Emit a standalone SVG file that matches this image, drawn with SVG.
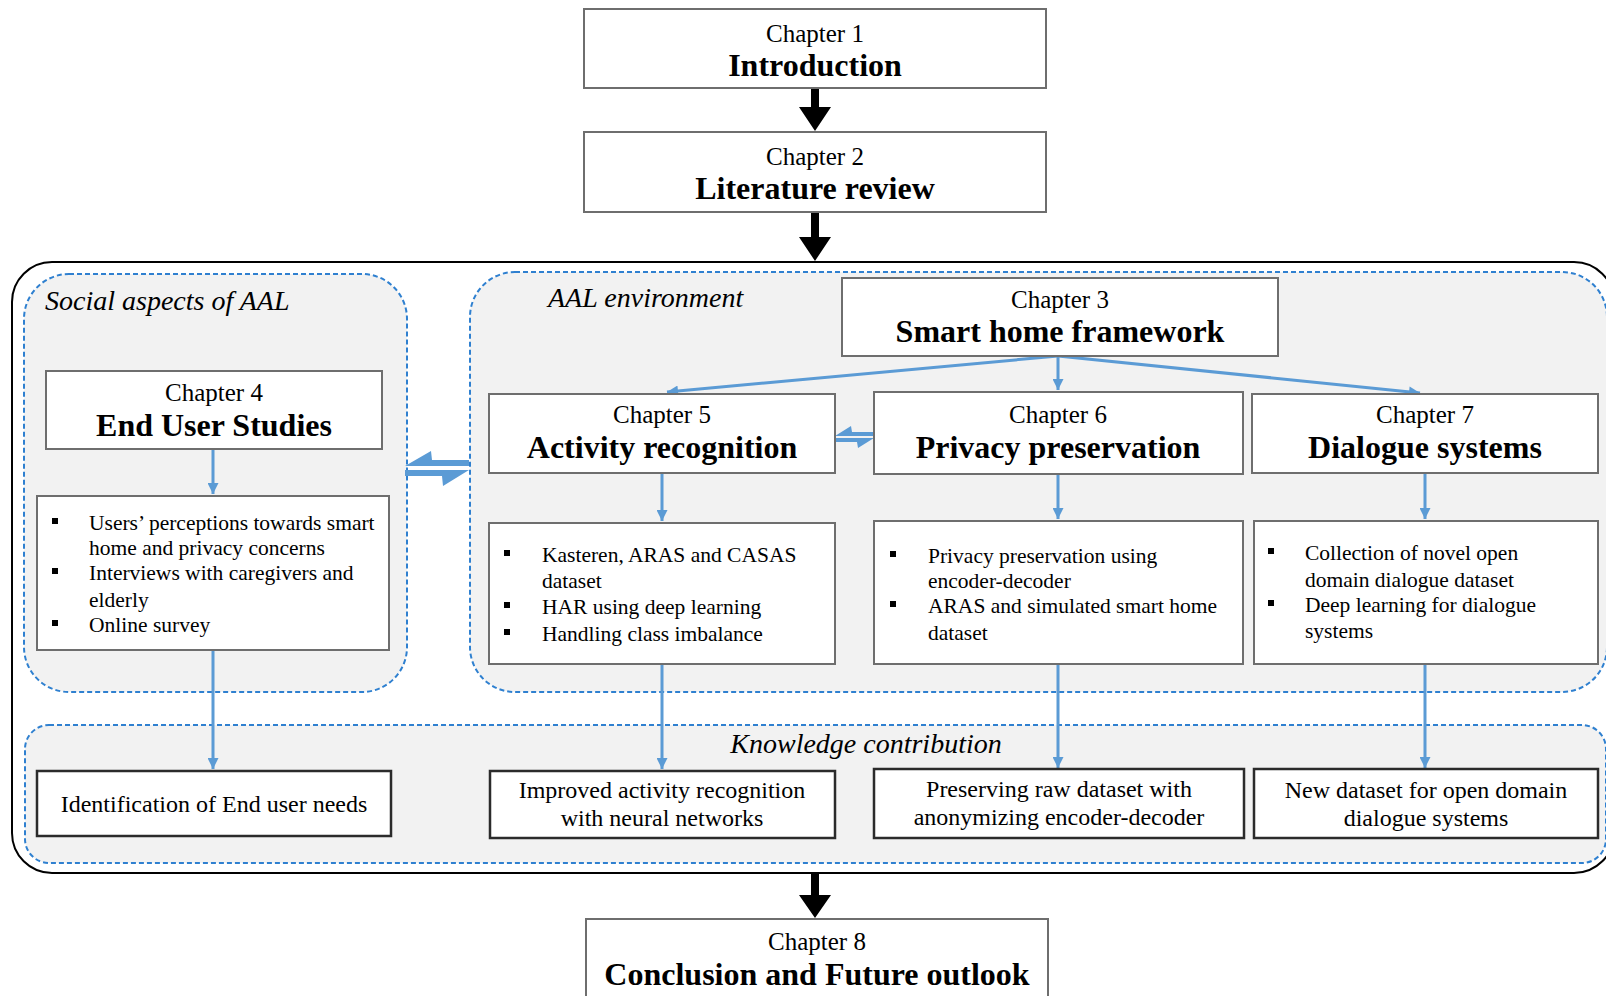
<svg xmlns="http://www.w3.org/2000/svg" width="1606" height="996" viewBox="0 0 1606 996">
  <style>
    text { font-family: "Liberation Serif", "Times New Roman", serif; fill: #000; }
    .ch { font-size: 25px; text-anchor: middle; }
    .title { font-size: 32px; font-weight: bold; text-anchor: middle; }
    .area { font-size: 28px; font-style: italic; }
    .body { font-size: 21.5px; }
    .out { font-size: 24px; text-anchor: middle; }
    .box { fill: #fff; stroke: #6e6e6e; stroke-width: 2; }
    .outbox { fill: #fff; stroke: #2b2b2b; stroke-width: 2.5; }
    .zone { fill: #f2f2f2; stroke: #2f80d0; stroke-width: 2; stroke-dasharray: 5 3; }
    .flow { stroke: #5b9bd5; stroke-width: 3; fill: none; marker-end: url(#blueHead); }
    .harpoon { fill: #5b9bd5; }
    .main { fill: #000; }
    .bullet { fill: #000; }
  </style>
  <defs>
    <marker id="blueHead" viewBox="0 0 10 10" refX="10" refY="5" markerWidth="12" markerHeight="11" markerUnits="userSpaceOnUse" orient="auto">
      <path d="M0,0 L10,5 L0,10 z" fill="#5b9bd5"/>
    </marker>
  </defs>

  <!-- outer frame around the research part -->
  <rect x="12" y="262" width="1602" height="611" rx="40" fill="#fff" stroke="#000" stroke-width="2"/>

  <!-- grouped zones -->
  <g id="zone-social">
    <rect class="zone" x="24" y="274" width="383" height="418" rx="45"/>
    <text class="area" x="45" y="310">Social aspects of AAL</text>
  </g>
  <g id="zone-aal">
    <rect class="zone" x="470" y="272" width="1137" height="420" rx="45"/>
    <text class="area" x="548" y="307">AAL environment</text>
  </g>
  <g id="zone-knowledge">
    <rect class="zone" x="25" y="725" width="1581" height="138" rx="24"/>
    <text class="area" x="866" y="753" text-anchor="middle">Knowledge contribution</text>
  </g>

  <!-- connectors -->
  <g id="connectors">
    <!-- main chapter flow -->
    <polygon class="main" points="811,88 819,88 819,107 831,107 815,131 799,107 811,107"/>
    <polygon class="main" points="811,212 819,212 819,237 831,237 815,261 799,237 811,237"/>
    <polygon class="main" points="811,873 819,873 819,895 831,895 815,918 799,895 811,895"/>

    <!-- chapter 3 fan-out -->
    <line class="flow" x1="1058" y1="356" x2="667" y2="392"/>
    <line class="flow" x1="1058" y1="356" x2="1058" y2="390"/>
    <line class="flow" x1="1058" y1="356" x2="1420" y2="393"/>

    <!-- chapter to detail boxes -->
    <line class="flow" x1="213" y1="449" x2="213" y2="494"/>
    <line class="flow" x1="662" y1="473" x2="662" y2="521"/>
    <line class="flow" x1="1058" y1="474" x2="1058" y2="519"/>
    <line class="flow" x1="1425" y1="473" x2="1425" y2="519"/>

    <!-- detail boxes to contributions -->
    <line class="flow" x1="213" y1="650" x2="213" y2="769"/>
    <line class="flow" x1="662" y1="664" x2="662" y2="769"/>
    <line class="flow" x1="1058" y1="664" x2="1058" y2="768"/>
    <line class="flow" x1="1425" y1="664" x2="1425" y2="768"/>

    <!-- two-way link between the social and AAL zones -->
    <polygon class="harpoon" points="469,460 432,460 431,451 405,466 469,466"/>
    <polygon class="harpoon" points="405,470 469,470 443,486 442,476 405,476"/>

    <!-- two-way link between chapter 5 and chapter 6 -->
    <polygon class="harpoon" points="874,432 852,432 851,426 835,436 874,436"/>
    <polygon class="harpoon" points="835,438 874,438 858,448 857,442 835,442"/>
  </g>

  <g id="ch1">
    <rect class="box" x="584" y="9" width="462" height="79"/>
    <text class="ch" x="815" y="42">Chapter 1</text>
    <text class="title" x="815" y="76">Introduction</text>
  </g>
  <g id="ch2">
    <rect class="box" x="584" y="132" width="462" height="80"/>
    <text class="ch" x="815" y="165">Chapter 2</text>
    <text class="title" x="815" y="199">Literature review</text>
  </g>
  <g id="ch3">
    <rect class="box" x="842" y="278" width="436" height="78"/>
    <text class="ch" x="1060" y="308">Chapter 3</text>
    <text class="title" x="1060" y="342">Smart home framework</text>
  </g>
  <g id="ch4">
    <rect class="box" x="46" y="371" width="336" height="78"/>
    <text class="ch" x="214" y="401">Chapter 4</text>
    <text class="title" x="214" y="436">End User Studies</text>
  </g>
  <g id="ch5">
    <rect class="box" x="489" y="394" width="346" height="79"/>
    <text class="ch" x="662" y="423">Chapter 5</text>
    <text class="title" x="662" y="458">Activity recognition</text>
  </g>
  <g id="ch6">
    <rect class="box" x="874" y="392" width="369" height="82"/>
    <text class="ch" x="1058" y="423">Chapter 6</text>
    <text class="title" x="1058" y="458">Privacy preservation</text>
  </g>
  <g id="ch7">
    <rect class="box" x="1252" y="394" width="346" height="79"/>
    <text class="ch" x="1425" y="423">Chapter 7</text>
    <text class="title" x="1425" y="458">Dialogue systems</text>
  </g>

  <g id="ch4-details">
    <rect class="box" x="37" y="496" width="352" height="154"/>
    <rect class="bullet" x="52" y="518" width="6" height="6"/>
    <rect class="bullet" x="52" y="568" width="6" height="6"/>
    <rect class="bullet" x="52" y="620" width="6" height="6"/>
    <text class="body" x="89" y="530">Users’ perceptions towards smart</text>
    <text class="body" x="89" y="555">home and privacy concerns</text>
    <text class="body" x="89" y="580">Interviews with caregivers and</text>
    <text class="body" x="89" y="607">elderly</text>
    <text class="body" x="89" y="632">Online survey</text>
  </g>
  <g id="ch5-details">
    <rect class="box" x="489" y="523" width="346" height="141"/>
    <rect class="bullet" x="504" y="550" width="6" height="6"/>
    <rect class="bullet" x="504" y="602" width="6" height="6"/>
    <rect class="bullet" x="504" y="629" width="6" height="6"/>
    <text class="body" x="542" y="562">Kasteren, ARAS and CASAS</text>
    <text class="body" x="542" y="588">dataset</text>
    <text class="body" x="542" y="614">HAR using deep learning</text>
    <text class="body" x="542" y="641">Handling class imbalance</text>
  </g>
  <g id="ch6-details">
    <rect class="box" x="874" y="521" width="369" height="143"/>
    <rect class="bullet" x="890" y="551" width="6" height="6"/>
    <rect class="bullet" x="890" y="601" width="6" height="6"/>
    <text class="body" x="928" y="563">Privacy preservation using</text>
    <text class="body" x="928" y="588">encoder-decoder</text>
    <text class="body" x="928" y="613">ARAS and simulated smart home</text>
    <text class="body" x="928" y="640">dataset</text>
  </g>
  <g id="ch7-details">
    <rect class="box" x="1254" y="521" width="344" height="143"/>
    <rect class="bullet" x="1268" y="548" width="6" height="6"/>
    <rect class="bullet" x="1268" y="600" width="6" height="6"/>
    <text class="body" x="1305" y="560">Collection of novel open</text>
    <text class="body" x="1305" y="587">domain dialogue dataset</text>
    <text class="body" x="1305" y="612">Deep learning for dialogue</text>
    <text class="body" x="1305" y="638">systems</text>
  </g>

  <g id="out-users">
    <rect class="outbox" x="37" y="771" width="354" height="65"/>
    <text class="out" x="214" y="812">Identification of End user needs</text>
  </g>
  <g id="out-activity">
    <rect class="outbox" x="490" y="771" width="345" height="67"/>
    <text class="out" x="662" y="798">Improved activity recognition</text>
    <text class="out" x="662" y="826">with neural networks</text>
  </g>
  <g id="out-privacy">
    <rect class="outbox" x="874" y="769" width="370" height="69"/>
    <text class="out" x="1059" y="797">Preserving raw dataset with</text>
    <text class="out" x="1059" y="825">anonymizing encoder-decoder</text>
  </g>
  <g id="out-dialogue">
    <rect class="outbox" x="1254" y="769" width="344" height="69"/>
    <text class="out" x="1426" y="798">New dataset for open domain</text>
    <text class="out" x="1426" y="826">dialogue systems</text>
  </g>

  <g id="ch8">
    <rect class="box" x="586" y="919" width="462" height="90"/>
    <text class="ch" x="817" y="950">Chapter 8</text>
    <text class="title" x="817" y="985">Conclusion and Future outlook</text>
  </g>
</svg>
